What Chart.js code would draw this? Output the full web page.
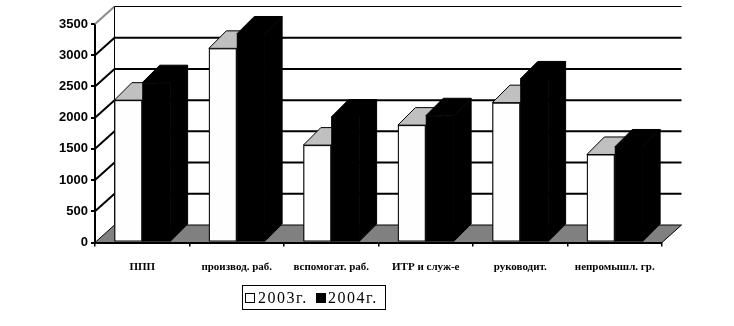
<!DOCTYPE html>
<html><head><meta charset="utf-8">
<script src="https://cdn.jsdelivr.net/npm/chart.js@4"></script>
<style>html,body{margin:0;padding:0;background:#fff;}#wrap{position:relative;width:734px;height:326px;}</style>
</head><body><div id="wrap"><canvas id="c" width="734" height="326"></canvas></div>
<script>
const categories = ['ППП','производ. раб.','вспомогат. раб.','ИТР и служ-е','руководит.','непромышл. гр.'];
const series2003 = [2280, 3110, 1560, 1880, 2240, 1410];
const series2004 = [2560, 3340, 2010, 2030, 2620, 1530];
const seriesLabels = ['2003г.', '2004г.'];
const yTicks = [0, 500, 1000, 1500, 2000, 2500, 3000, 3500];

const DXW = 19.5, DYW = 17.5, DXB = 17.5, DYB = 17.5;
const faceColors = [
  {front:'#fefefe', top:'#c0c0c0', side:'#e6e6e6', edge:'#000'},
  {front:'#000000', top:'#000000', side:'#000000', edge:'#000'}
];

const threeD = {
  id: 'threeD',
  beforeDatasetsDraw(chart) {
    const ctx = chart.ctx, y = chart.scales.y, a = chart.chartArea;
    const L = a.left, R = a.right, B = a.bottom;
    ctx.save();
    ctx.lineCap = 'butt';
    yTicks.forEach(v => {
      if (v === 0) return;
      const py = y.getPixelForValue(v);
      const isTop = v === yTicks[yTicks.length-1];
      ctx.beginPath();
      ctx.moveTo(L, py); ctx.lineTo(L + DXW, py - DYW);
      ctx.strokeStyle = isTop ? '#8a8a8a' : '#000';
      ctx.lineWidth = 2; ctx.stroke();
      ctx.beginPath();
      ctx.moveTo(L + DXW, py - DYW); ctx.lineTo(R + DXW, py - DYW);
      ctx.strokeStyle = '#000';
      ctx.lineWidth = isTop ? 1 : 2;
      ctx.stroke();
    });
    const topY = y.getPixelForValue(yTicks[yTicks.length-1]);
    ctx.beginPath();
    ctx.moveTo(L + DXW, topY - DYW); ctx.lineTo(L + DXW, B - DYW);
    ctx.lineWidth = 1; ctx.strokeStyle = '#000'; ctx.stroke();
    ctx.beginPath();
    ctx.moveTo(L, B); ctx.lineTo(R, B); ctx.lineTo(R + DXW, B - DYW); ctx.lineTo(L + DXW, B - DYW);
    ctx.closePath();
    ctx.fillStyle = '#808080'; ctx.fill();
    ctx.lineWidth = 1; ctx.strokeStyle = '#000'; ctx.stroke();
    ctx.restore();
  },
  afterDatasetsDraw(chart) {
    const ctx = chart.ctx;
    ctx.save();
    ctx.lineWidth = 1;
    chart.data.datasets.forEach((ds, i) => {
      const meta = chart.getDatasetMeta(i);
      const c = faceColors[i];
      ctx.strokeStyle = c.edge;
      meta.data.forEach(bar => {
        const p = bar.getProps(['x','y','base','width'], true);
        const l = p.x - p.width/2, r = p.x + p.width/2, t = p.y, b = p.base;
        ctx.beginPath();
        ctx.moveTo(r, t); ctx.lineTo(r + DXB, t - DYB); ctx.lineTo(r + DXB, b - DYB); ctx.lineTo(r, b);
        ctx.closePath(); ctx.fillStyle = c.side; ctx.fill(); ctx.stroke();
        ctx.beginPath();
        ctx.moveTo(l, t); ctx.lineTo(l + DXB, t - DYB); ctx.lineTo(r + DXB, t - DYB); ctx.lineTo(r, t);
        ctx.closePath(); ctx.fillStyle = c.top; ctx.fill(); ctx.stroke();
        ctx.beginPath();
        ctx.rect(l + 0.5, t + 0.5, r - l - 1, b - t - 1);
        ctx.fillStyle = c.front; ctx.fill(); ctx.stroke();
      });
    });
    ctx.restore();
  },
  afterDraw(chart) {
    const ctx = chart.ctx;
    ctx.save();
    ctx.strokeStyle = '#000'; ctx.lineWidth = 1;
    ctx.strokeRect(242.5, 285.5, 143, 24);
    ctx.font = '16px "Liberation Serif"';
    ctx.textBaseline = 'alphabetic';
    const items = [{x:245.5, tx:258}, {x:316.5, tx:328}];
    chart.data.datasets.forEach((ds, i) => {
      const it = items[i];
      ctx.fillStyle = faceColors[i].front;
      ctx.fillRect(it.x, 293.5, 9, 9);
      ctx.strokeRect(it.x, 293.5, 9, 9);
      ctx.fillStyle = '#000';
      ctx.letterSpacing = '1.5px';
      ctx.fillText(ds.label, it.tx, 303);
    });
    ctx.restore();
  }
};

new Chart(document.getElementById('c'), {
  type: 'bar',
  data: {
    labels: categories,
    datasets: [
      {label: seriesLabels[0], data: series2003, backgroundColor: faceColors[0].front, borderColor: '#000', borderWidth: 1},
      {label: seriesLabels[1], data: series2004, backgroundColor: faceColors[1].front, borderColor: '#000', borderWidth: 1}
    ]
  },
  plugins: [threeD],
  options: {
    responsive: false,
    devicePixelRatio: 1,
    animation: false,
    events: [],
    layout: {padding: {top: 24, right: 72, bottom: 0, left: 0}},
    plugins: {legend: {display: false}, tooltip: {enabled: false}},
    datasets: {bar: {categoryPercentage: 0.59, barPercentage: 1}},
    scales: {
      x: {
        afterFit(s) { s.height = 83.5; },
        grid: {display: true, offset: true, drawOnChartArea: false, drawTicks: true, tickLength: 4, color: '#000', lineWidth: 1.5},
        border: {display: true, color: '#000', width: 2},
        ticks: {color: '#000', font: {family: '"Liberation Serif"', size: 11, weight: 'bold'}, padding: 14, maxRotation: 0, autoSkip: false}
      },
      y: {
        min: 0, max: 3500,
        afterFit(s) { s.width = 95; },
        afterBuildTicks(s) { s.ticks = yTicks.map(v => ({value: v})); },
        grid: {display: true, drawOnChartArea: false, drawTicks: true, tickLength: 4, color: '#000', lineWidth: 2},
        border: {display: true, color: '#000', width: 2},
        ticks: {color: '#000', font: {family: '"Liberation Sans"', size: 13, weight: 'bold'}, padding: 3, callback: v => String(v)}
      }
    }
  }
});
</script></body></html>
